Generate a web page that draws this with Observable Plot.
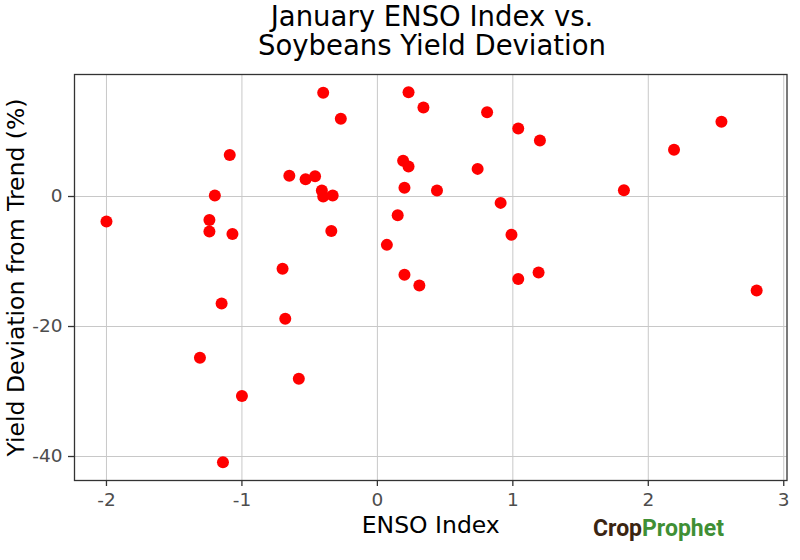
<!DOCTYPE html>
<html>
<head>
<meta charset="utf-8">
<script src="https://cdn.jsdelivr.net/npm/d3@7"></script>
<script src="https://cdn.jsdelivr.net/npm/@observablehq/plot@0.6"></script>
<style>
  html, body { margin: 0; padding: 0; background: #fff; overflow: hidden; }
  #wrap { position: relative; width: 800px; height: 560px; font-family: "DejaVu Sans", sans-serif; }
  .tline { position: absolute; left: 64px; width: 736px; text-align: center;
           font-size: 27.5px; color: #000; white-space: nowrap; }
  #t1 { top: 0px; line-height: 32px; height: 32px; }
  #t2 { top: 30px; line-height: 30px; height: 30px; }
  #chart { position: absolute; left: 0; top: 66px; }
  #logo { position: absolute; left: 593px; top: 517px; font-family: Roboto, sans-serif;
          font-weight: 700; font-size: 23px; line-height: 24px; white-space: nowrap; }
  #logo .crop { color: #3b2512; }
  #logo .prophet { color: #3f8f35; }
</style>
</head>
<body>
<div id="wrap">
  <div class="tline" id="t1">January ENSO Index vs.</div>
  <div class="tline" id="t2">Soybeans Yield Deviation</div>
  <div id="chart"></div>
  <div id="logo"><span class="crop">Crop</span><span class="prophet">Prophet</span></div>
</div>
<script>
// ENSO index (x) and yield deviation from trend in % (y)
const ensoIndex = [-0.40, -0.27, -1.09, -0.65, -0.53, -0.46, -0.41, -0.40, -0.33, -1.20, -2.00,
  -1.24, -1.24, -1.07, -0.34, -0.70, 0.23, 0.34, 0.81, 1.04, 1.20, 2.54, 2.19, 0.19, 0.23, 0.74,
  0.20, 0.44, 1.82, 0.91, 0.15, 0.99, 0.07, 0.20, 1.19, 1.04, 0.31, 2.80, -1.15, -0.68, -1.31,
  -0.58, -1.00, -1.14];
const yieldDeviation = [15.95, 11.95, 6.4, 3.18, 2.67, 3.13, 0.92, 0.0, 0.15, 0.15, -3.85,
  -3.6, -5.4, -5.75, -5.3, -11.1, 16.05, 13.7, 12.97, 10.46, 8.6, 11.5, 7.2, 5.5, 4.6, 4.25,
  1.33, 0.92, 0.97, -0.98, -2.87, -5.9, -7.44, -12.05, -11.7, -12.7, -13.7, -14.46, -16.46,
  -18.8, -24.8, -28.05, -30.7, -40.9];
const xTicks = [-2, -1, 0, 1, 2, 3];
const yTicks = [-40, -20, 0];
const xTitle = "ENSO Index";
const yTitle = "Yield Deviation from Trend (%)";

const points = ensoIndex.map((x, i) => ({x, y: yieldDeviation[i]}));

const chart = Plot.plot({
  width: 800,
  height: 494,
  marginTop: 8,
  marginBottom: 80,
  marginLeft: 74,
  marginRight: 13.5,
  style: {fontFamily: "DejaVu Sans, sans-serif", background: "#fff", overflow: "visible"},
  x: {domain: [-2.236, 3.024]},
  y: {domain: [-43.69, 18.77]},
  marks: [
    Plot.gridX(xTicks, {stroke: "#c8c8c8", strokeOpacity: 1, strokeWidth: 1}),
    Plot.gridY(yTicks, {stroke: "#c8c8c8", strokeOpacity: 1, strokeWidth: 1}),
    Plot.dot(points, {x: "x", y: "y", r: 6, fill: "#ff0000", stroke: "none"}),
    Plot.frame({stroke: "#333", strokeWidth: 1.3}),
    Plot.axisX(xTicks, {tickSize: 6, tickPadding: 6, stroke: "#333", strokeWidth: 1.3,
      fill: "#4d4d4d", fontSize: 18.5, label: null, tickFormat: d => String(d)}),
    Plot.axisY(yTicks, {tickSize: 6, tickPadding: 6, stroke: "#333", strokeWidth: 1.3,
      fill: "#4d4d4d", fontSize: 18.5, label: null, tickFormat: d => String(d)}),
    Plot.text([xTitle], {frameAnchor: "bottom", dy: 52, lineAnchor: "bottom",
      textAnchor: "middle", fontSize: 23.5, fill: "#000"}),
    Plot.text([yTitle], {frameAnchor: "left", dx: -51, rotate: -90, lineAnchor: "bottom",
      textAnchor: "middle", fontSize: 23.5, fill: "#000"})
  ]
});
document.getElementById("chart").appendChild(chart);
</script>
</body>
</html>
